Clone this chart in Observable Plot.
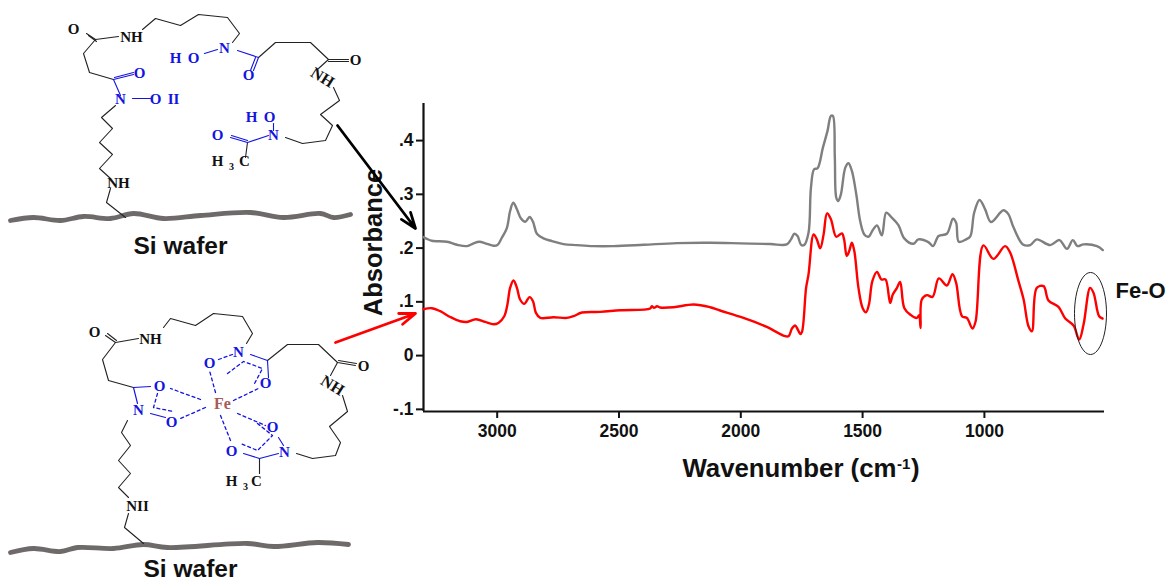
<!DOCTYPE html>
<html>
<head>
<meta charset="utf-8">
<script src="https://cdn.jsdelivr.net/npm/d3@7"></script>
<script src="https://cdn.jsdelivr.net/npm/@observablehq/plot@0.6"></script>
<style>
html,body{margin:0;padding:0;background:#fff}
#wrap{position:relative;width:1172px;height:582px;overflow:hidden}
#wrap svg{position:absolute;left:0;top:0}
</style>
</head>
<body>
<div id="wrap"></div>
<script>
// ---------- spectra: wavenumber (cm-1), absorbance ----------
const grayWavenumber = [3303,3289,3268,3206,3165,3124,3097,3074,3042,3015,2999,2981,2960,2947,2934,2919,2903,2885,2867,2853,2837,2810,2775,2728,2673,2605,2523,2399,2262,2126,2002,1879,1811,1794,1780,1767,1752,1740,1722,1712,1699,1685,1663,1644,1630,1622,1614,1608,1600,1589,1571,1558,1544,1526,1510,1493,1476,1458,1441,1421,1403,1380,1353,1329,1291,1271,1230,1211,1188,1154,1129,1116,1105,1075,1058,1042,1020,997,973,922,901,881,842,812,785,730,692,661,637,618,593,538,514];
const grayAbsorbance = [.2205,.2173,.2136,.2117,.2062,.2037,.2088,.2117,.208,.2043,.2056,.2192,.2378,.269,.2844,.2721,.2554,.249,.2578,.249,.2267,.2181,.213,.2075,.2056,.2037,.2037,.2062,.2093,.2099,.2088,.2075,.2069,.2162,.2267,.2224,.2056,.2056,.2285,.3124,.3467,.3485,.3869,.4181,.446,.446,.3683,.2937,.2876,.3001,.3497,.3579,.3435,.3001,.2503,.2255,.2211,.2336,.2423,.2237,.2658,.2565,.2429,.2181,.208,.2162,.2112,.2037,.2224,.2267,.2546,.2472,.2117,.2162,.2218,.2658,.2895,.2721,.2485,.2703,.2628,.2391,.2069,.2056,.2162,.2056,.2149,.1987,.2149,.2037,.2069,.2037,.1963];
const redWavenumber = [3303,3268,3234,3193,3152,3124,3087,3049,3015,2995,2971,2958,2947,2933,2919,2906,2889,2867,2853,2841,2823,2769,2714,2687,2652,2577,2495,2372,2365,2356,2344,2331,2276,2194,2126,2085,1989,1893,1825,1804,1790,1777,1766,1756,1749,1732,1722,1701,1688,1674,1660,1646,1630,1608,1585,1576,1565,1555,1544,1534,1517,1500,1486,1474,1460,1441,1423,1406,1387,1376,1359,1346,1329,1305,1277,1268,1262,1257,1236,1213,1187,1154,1131,1116,1092,1072,1049,1036,1004,963,915,894,860,839,819,805,785,757,737,696,668,634,611,593,566,552,529,515];
const redAbsorbance = [.0863,.0882,.0826,.0719,.0639,.0626,.0677,.0626,.0583,.0608,.0733,.0951,.126,.1398,.126,.1044,.0962,.1087,.1012,.0794,.0701,.0714,.0701,.0733,.0801,.0813,.0844,.0876,.0919,.0887,.0919,.0895,.09,.0951,.09,.0839,.0701,.0533,.0373,.036,.0503,.0559,.0485,.0403,.044,.126,.151,.2255,.2162,.1994,.2255,.2647,.2535,.2211,.2274,.2162,.1851,.1944,.2099,.1944,.126,.0887,.0807,.0951,.1385,.1558,.1417,.1417,.098,.1137,.126,.1372,.0887,.0764,.0701,.0751,.0514,.1044,.1124,.1092,.1435,.1305,.1515,.1353,.0733,.0701,.0503,.0639,.205,.18,.2037,.1912,.1385,.1044,.0546,.0453,.126,.1292,.1025,.0906,.069,.0559,.0298,.0578,.126,.1167,.0733,.069];
const xTicks = [3000,2500,2000,1500,1000];
const yTicks = [-.1,0,.1,.2,.3,.4];
const yTickLabels = ["-.1","0",".1",".2",".3",".4"];

// ---------- molecular scheme (drawing units) ----------
const blackBonds = [
 [[86,33],[95,39],[118,36]],[[88,35],[96,41]],
 [[95,39],[83,53],[89,72],[113,79]],
 [[142,29],[155,18],[180,25],[198,14],[227,17],[239,33],[232,42]],
 [[258,57],[275,42],[310,42],[328,59],[348,59]],[[328,61],[348,61]],
 [[328,59],[318,68]],
 [[333,87],[339,100],[320,114],[332,125],[325,140],[302,143],[285,137]],
 [[247,142],[245,157]],
 [[115,105],[101,117],[112,128],[99,142],[112,154],[99,168],[110,178]],
 [[110,188],[106,202],[125,217]],
 [[105,335],[115,342],[138,338]],[[107,333],[116,340]],
 [[115,342],[102,359],[108,380],[133,387]],
 [[163,327],[170,318],[195,325],[213,313],[242,316],[252,333],[246,343]],
 [[267,360],[287,344],[318,344],[337,362],[355,365]],[[338,360],[356,363]],
 [[337,362],[330,375]],
 [[342,395],[347,411],[329,426],[340,442],[335,455],[312,458],[296,453]],
 [[259,458],[259,473]],
 [[127,420],[121,432],[130,445],[118,460],[130,473],[118,487],[128,497]],
 [[128,513],[124,527],[143,543]]
];
const blueBonds = [
 [[204,53],[217,49]],[[237,50],[258,57],[253,70]],[[255,57],[250,70]],
 [[273,123],[273,130]],[[268,135],[247,142],[230,137]],[[247,140],[231,135]],
 [[113,79],[133,74]],[[114,77],[133,72]],[[113,79],[120,95]],[[132,98],[150,98]],
 [[250,354],[267,360],[268,377]],[[278,453],[259,458],[243,453]],
 [[133,387],[150,386]],[[133,387],[137,403]],[[150,413],[165,417]],[[278,437],[283,445]]
];
const blueDashes = [
 [[233,400],[260,387]],[[215,392],[209,370]],[[200,399],[170,388]],[[205,407],[180,418]],
 [[220,415],[230,440]],[[237,413],[265,425]],[[218,359],[232,354]],
 [[227,373],[243,361],[262,368],[253,385]],[[157,393],[153,407],[173,411]],
 [[257,423],[272,435],[257,450],[240,443]]
];
const wafers = [
 [[10,220],[33,217],[60,220],[83,216],[110,218],[133,213],[163,218],[200,215],[250,212],[283,217],[320,213],[333,217],[350,214]],
 [[10,552],[33,548],[60,551],[77,547],[113,548],[143,544],[167,547],[247,543],[273,546],[317,542],[348,544]]
];
const blue = "#1414e0", ink = "#111111";
const atomLabels = [
 ["O",73,29,ink],["NH",131,37,ink],["N",224,48,blue],["O",193,58,blue],["H",175,58,blue],
 ["O",248,75,blue],["O",355,60,ink],["O",139,73,blue],["N",120,99,blue],["O",155,99,blue],["II",173,99,blue],
 ["N",273,135,blue],["O",269,117,blue],["H",251,117,blue],["O",217,135,blue],["H",217,161,ink],["C",244,161,ink],
 ["NH",118,183,ink],
 ["O",94,332,ink],["NH",150,339,ink],["N",238,352,blue],["O",209,363,blue],["O",265,383,blue],["O",363,366,ink],
 ["O",159,386,blue],["O",171,422,blue],["N",138,410,blue],["O",272,427,blue],["O",231,451,blue],["N",284,452,blue],
 ["H",231,481,ink],["C",256,481,ink],["NII",137,506,ink]
];
const smallLabels = [["3",231,166],["3",245,486]];
const skewLabels = [["NH",322,77],["NH",332,385]];
const feLabel = ["Fe",222,403];
const captions = [["Si wafer",180,246],["Si wafer",190,569]];
const arrows = [
 {x1:337,y1:125,x2:415,y2:228,color:"#000000"},
 {x1:335,y1:342,x2:415,y2:313,color:"#ff0000"}
];
const peakRing = {cx:1090,cy:313,rx:16,ry:41};

const toRows = (paths) => paths.flatMap((p,i)=>p.map(([x,y])=>({x,y,id:i})));
const sans = "'Liberation Sans', Arial, sans-serif";
const serif = "'Liberation Serif', 'Times New Roman', serif";
const gray = grayWavenumber.map((w,i)=>({w,a:grayAbsorbance[i]}));
const red = redWavenumber.map((w,i)=>({w,a:redAbsorbance[i]}));

const chart = Plot.plot({
  width:1172, height:582,
  marginLeft:423, marginRight:68, marginTop:103, marginBottom:171,
  style:{fontFamily:sans, background:"transparent", overflow:"visible"},
  x:{domain:[3302.5,507], label:null},
  y:{domain:[-.104,.469], label:null},
  marks:[
    Plot.axisX({ticks:xTicks, tickSize:7, tickPadding:6, tickFormat:d=>String(d), fontSize:17.5, fontWeight:"bold", strokeWidth:2, stroke:"#111", fill:"#111", label:null}),
    Plot.axisY({ticks:yTicks, tickSize:7, tickPadding:3, tickFormat:d=>yTickLabels[yTicks.indexOf(d)], fontSize:17.5, fontWeight:"bold", strokeWidth:2, stroke:"#111", fill:"#111", label:null}),
    Plot.ruleX([3302.5],{stroke:"#111",strokeWidth:2.2}),
    Plot.ruleY([-.104],{stroke:"#111",strokeWidth:2.2}),
    Plot.line(gray,{x:"w",y:"a",stroke:"#7f7f7f",strokeWidth:2.4,curve:"catmull-rom"}),
    Plot.line(red,{x:"w",y:"a",stroke:"#ff0000",strokeWidth:2.4,curve:"catmull-rom"}),
    Plot.text(["Absorbance"],{frameAnchor:"left",textAnchor:"middle",rotate:-90,dx:-50,dy:-15,fontSize:25.5,fontWeight:"bold",fill:"#111"})
  ]
});

const scheme = Plot.plot({
  width:1172, height:582, margin:0,
  style:{fontFamily:sans, background:"transparent"},
  x:{type:"linear",domain:[0,1172],range:[0,1172],axis:null},
  y:{type:"linear",domain:[0,582],range:[0,582],axis:null},
  marks:[
    Plot.line(toRows(wafers),{x:"x",y:"y",z:"id",stroke:"#6e6a6a",strokeWidth:4.8,curve:"catmull-rom"}),
    Plot.line(toRows(blackBonds),{x:"x",y:"y",z:"id",stroke:"#222",strokeWidth:1.1}),
    Plot.line(toRows(blueBonds),{x:"x",y:"y",z:"id",stroke:blue,strokeWidth:1.1}),
    Plot.line(toRows(blueDashes),{x:"x",y:"y",z:"id",stroke:blue,strokeWidth:1.3,strokeDasharray:"3,3"}),
    Plot.text(atomLabels,{x:d=>d[1],y:d=>d[2],text:d=>d[0],fill:d=>d[3],fontFamily:serif,fontWeight:"bold",fontSize:15}),
    Plot.text(smallLabels,{x:d=>d[1],y:d=>d[2],text:d=>d[0],fill:ink,fontFamily:serif,fontWeight:"bold",fontSize:10}),
    Plot.text(skewLabels,{x:d=>d[1],y:d=>d[2],text:d=>d[0],fill:ink,fontFamily:serif,fontWeight:"bold",fontSize:16,rotate:32}),
    Plot.text([feLabel],{x:d=>d[1],y:d=>d[2],text:d=>d[0],fill:"#a85a5a",fontFamily:serif,fontWeight:"bold",fontSize:16,letterSpacing:"1px"}),
    Plot.text(captions,{x:d=>d[1],y:d=>d[2],text:d=>d[0],fill:"#111",fontWeight:"bold",fontSize:24.5}),
    Plot.text(["Wavenumber (cm"],{x:()=>896,y:()=>468,textAnchor:"end",fill:"#111",fontWeight:"bold",fontSize:25.8}),
    Plot.text(["-1"],{x:()=>896.5,y:()=>469,textAnchor:"start",fill:"#111",fontWeight:"bold",fontSize:15,dy:-5}),
    Plot.text([")"],{x:()=>910.5,y:()=>468,textAnchor:"start",fill:"#111",fontWeight:"bold",fontSize:25.8}),
    Plot.text(["Fe-O"],{x:()=>1115,y:()=>290,textAnchor:"start",fill:"#111",fontWeight:"bold",fontSize:22}),
    Plot.line(d3.range(0,361,6).map(t=>({x:peakRing.cx+peakRing.rx*Math.cos(t*Math.PI/180),y:peakRing.cy+peakRing.ry*Math.sin(t*Math.PI/180)})),{x:"x",y:"y",stroke:"#222",strokeWidth:1}),
    Plot.arrow(arrows,{x1:"x1",y1:"y1",x2:"x2",y2:"y2",stroke:"color",strokeWidth:2.8,headLength:9,headAngle:40})
  ]
});

const wrap = document.getElementById("wrap");
wrap.append(chart, scheme);
</script>
</body>
</html>
